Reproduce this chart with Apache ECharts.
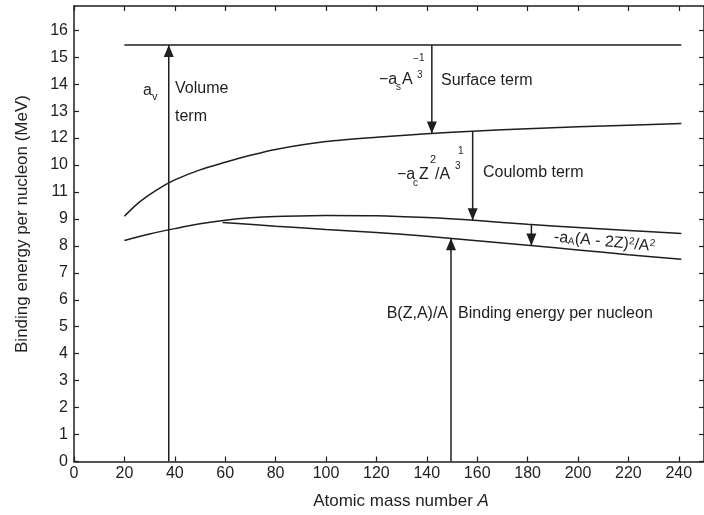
<!DOCTYPE html>
<html>
<head>
<meta charset="utf-8">
<script src="https://cdn.jsdelivr.net/npm/echarts@6/dist/echarts.min.js"></script>
<style>
html, body { margin: 0; padding: 0; background: #fff; }
#main { width: 704px; height: 515px; }
</style>
</head>
<body>
<div id="main"></div>
<script>
// tick positions and the labels printed next to them (10 and 11 are swapped in the original)
var xTicks = [0, 20, 40, 60, 80, 100, 120, 140, 160, 180, 200, 220, 240];
var yTicks = [0, 1, 2, 3, 4, 5, 6, 7, 8, 9, 10, 11, 12, 13, 14, 15, 16];
var yTickLabels = ['0', '1', '2', '3', '4', '5', '6', '7', '8', '9', '11', '10', '12', '13', '14', '15', '16'];

// volume term (flat line)
var volumeA = [20, 241];
var volumeB = [15.45, 15.45];

// after the surface term
var surfaceA = [20, 25, 30, 35, 40, 50, 60, 70, 80, 100, 120, 140, 160, 180, 200, 220, 241];
var surfaceB = [9.10, 9.55, 9.90, 10.20, 10.45, 10.82, 11.10, 11.36, 11.58, 11.87, 12.03, 12.16, 12.26, 12.35, 12.42, 12.48, 12.54];

// after the coulomb term
var coulombA = [20, 30, 40, 50, 60, 70, 80, 100, 120, 140, 160, 180, 200, 220, 241];
var coulombB = [8.20, 8.44, 8.64, 8.82, 8.95, 9.04, 9.09, 9.13, 9.12, 9.05, 8.94, 8.80, 8.68, 8.57, 8.46];

// after the asymmetry term = B(Z,A)/A
var asymA = [59, 80, 100, 120, 140, 160, 180, 200, 220, 241];
var asymB = [8.87, 8.73, 8.61, 8.50, 8.36, 8.19, 8.02, 7.85, 7.67, 7.50];

// vertical arrows: position, start, end (head at end)
var arrowA = [37.6, 142, 158.2, 181.5, 149.6];
var arrowFrom = [0, 15.45, 12.25, 8.79, 0];
var arrowTo = [15.45, 12.17, 8.95, 8.01, 8.28];

var ink = '#1e1e1e';
var FONT = '"Liberation Sans", Arial, sans-serif';

function pairs(a, b) {
    return a.map(function (x, i) { return [x, b[i]]; });
}

function curve(a, b) {
    return {
        type: 'line', data: pairs(a, b), smooth: 0.3, showSymbol: false,
        lineStyle: { color: ink, width: 1.5 }, silent: true
    };
}

var arrowSeries = arrowA.map(function (x, i) {
    var up = arrowTo[i] > arrowFrom[i];
    return {
        type: 'line', silent: true,
        lineStyle: { color: ink, width: 1.5 },
        itemStyle: { color: ink, borderWidth: 0 },
        data: [
            { value: [x, arrowFrom[i]], symbol: 'none' },
            { value: [x, arrowTo[i]], symbol: 'triangle', symbolSize: [10, 12],
              symbolRotate: up ? 0 : 180, symbolOffset: [0, up ? '50%' : '-50%'] }
        ]
    };
});

function t(x, y, text, size, extra) {
    var el = {
        type: 'text', x: x, y: y, silent: true,
        style: { text: text, fontSize: size, fontFamily: FONT, fill: ink,
                 align: 'left', verticalAlign: 'middle' }
    };
    if (extra) {
        for (var k in extra) {
            if (k === 'style') {
                for (var s in extra.style) el.style[s] = extra.style[s];
            } else el[k] = extra[k];
        }
    }
    return el;
}

var graphics = [
    // volume
    t(143, 91, 'a', 16), t(152, 97, 'v', 11),
    t(175, 89, 'Volume', 16), t(175, 117, 'term', 16),
    // surface
    t(379, 79.5, '\u2212a', 16), t(396, 87, 's', 10), t(402, 79.5, 'A', 16),
    t(413, 59, '\u2212', 10), t(419, 58, '1', 10), t(417, 75, '3', 10),
    t(441, 81, 'Surface term', 16),
    // coulomb
    t(397, 174.5, '\u2212a', 16), t(413, 183, 'c', 10), t(419, 174.5, 'Z', 16),
    t(430, 160, '2', 11), t(435, 174.5, '/A', 16),
    t(458, 151, '1', 10), t(455, 166, '3', 10),
    t(483, 172.5, 'Coulomb term', 16),
    // asymmetry (tilted along the curves)
    t(554, 237, '-a{s|A}(A - 2Z){p|2}/A{p|2}', 16, {
        rotation: -0.095,
        style: { rich: {
            s: { fontSize: 10, fontFamily: FONT, fill: ink, verticalAlign: 'bottom' },
            p: { fontSize: 10, fontFamily: FONT, fill: ink, verticalAlign: 'top' }
        } }
    }),
    // total
    t(448, 314, 'B(Z,A)/A', 16, { style: { align: 'right' } }),
    t(458, 314, 'Binding energy per nucleon', 16),
    // axis titles
    t(22, 224, 'Binding energy per nucleon (MeV)', 17, {
        rotation: Math.PI / 2, style: { align: 'center' }
    }),
    t(401, 501, 'Atomic mass number {i|A}', 17, {
        style: { align: 'center', rich: {
            i: { fontSize: 17, fontFamily: FONT, fill: ink, fontStyle: 'italic' }
        } }
    })
];

var chart = echarts.init(document.getElementById('main'), null, { renderer: 'canvas' });

var axisLineStyle = { color: ink, width: 1.5 };
var tickStyle = { color: ink, width: 1.2 };

chart.setOption({
    animation: false,
    backgroundColor: '#fff',
    grid: { left: 74, top: 6, width: 630, height: 455.5, outerBoundsMode: 'none' },
    xAxis: [{
        type: 'value', min: 0, max: 250, position: 'bottom',
        axisLine: { onZero: false, lineStyle: axisLineStyle },
        axisTick: { inside: true, length: 5, customValues: xTicks, lineStyle: tickStyle },
        axisLabel: { customValues: xTicks, margin: 4, fontSize: 16, color: ink, fontFamily: FONT },
        splitLine: { show: false }
    }, {
        type: 'value', min: 0, max: 250, position: 'top',
        axisLine: { onZero: false, lineStyle: axisLineStyle },
        axisTick: { inside: true, length: 5, customValues: xTicks, lineStyle: tickStyle },
        axisLabel: { show: false },
        splitLine: { show: false }
    }],
    yAxis: [{
        type: 'value', min: 0, max: 16.9, position: 'left',
        axisLine: { onZero: false, lineStyle: axisLineStyle },
        axisTick: { inside: true, length: 5, customValues: yTicks, lineStyle: tickStyle },
        axisLabel: {
            customValues: yTicks, margin: 6, fontSize: 16, color: ink, fontFamily: FONT,
            formatter: function (v) {
                var i = yTicks.indexOf(v);
                return i < 0 ? '' : yTickLabels[i];
            }
        },
        splitLine: { show: false }
    }, {
        type: 'value', min: 0, max: 16.9, position: 'right',
        axisLine: { onZero: false, lineStyle: axisLineStyle },
        axisTick: { inside: true, length: 5, customValues: yTicks, lineStyle: tickStyle },
        axisLabel: { show: false },
        splitLine: { show: false }
    }],
    series: [
        curve(volumeA, volumeB),
        curve(surfaceA, surfaceB),
        curve(coulombA, coulombB),
        curve(asymA, asymB)
    ].concat(arrowSeries),
    graphic: graphics
});
</script>
</body>
</html>
